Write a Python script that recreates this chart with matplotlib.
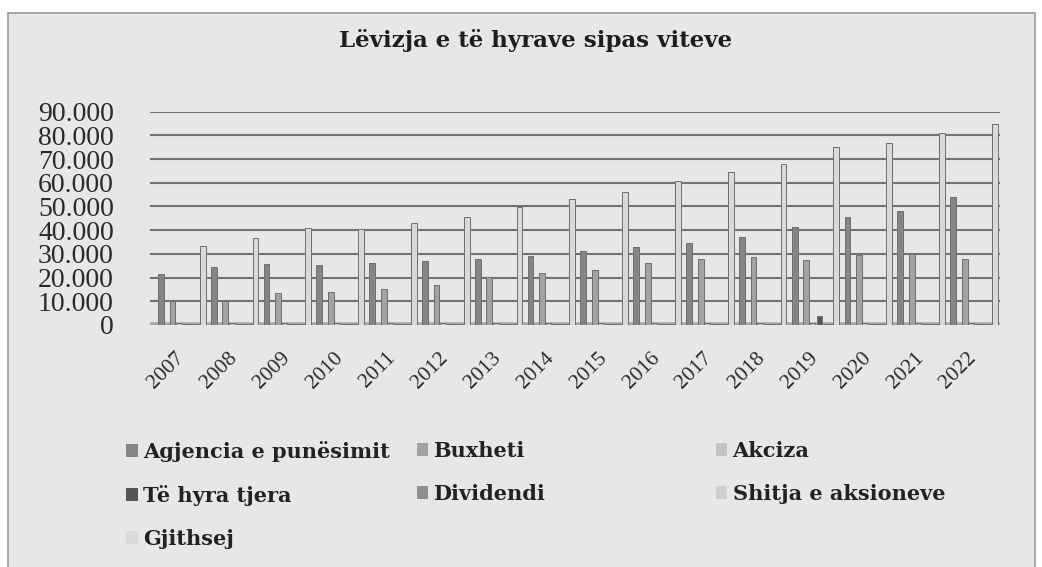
"""
    Revenue movement by year (grouped columns, grayscale)

    Draws the chart and saves it as out.png
"""

from __future__ import annotations
from pathlib import Path
import matplotlib
matplotlib.use('Agg')
import matplotlib.pyplot as plt
from matplotlib.patches import Patch, Rectangle


# ============================================================
# Data
# ============================================================

YEARS = ['2007', '2008', '2009', '2010', '2011', '2012', '2013', '2014',
         '2015', '2016', '2017', '2018', '2019', '2020', '2021', '2022']

AGJENCIA = [21400, 24600, 25600, 25300, 26000, 27000, 27800, 29200,
            31400, 33000, 34700, 37300, 41200, 45400, 48200, 54100]
BUXHETI = [10100, 10100, 13600, 13900, 15200, 16700, 20100, 22100,
           23200, 26000, 27800, 28800, 27400, 29500, 30000, 27800]
AKCIZA = [600, 600, 600, 600, 600, 600, 600, 600,
          600, 600, 600, 600, 600, 600, 600, 600]
TE_HYRA_TJERA = [300, 300, 300, 300, 300, 300, 300, 300,
                 300, 300, 300, 300, 3800, 300, 300, 300]
DIVIDENDI = [400, 400, 400, 400, 400, 400, 400, 400,
             400, 400, 400, 400, 400, 400, 400, 400]
SHITJA = [200, 200, 200, 200, 200, 200, 200, 200,
          200, 200, 200, 200, 200, 200, 200, 200]
GJITHSEJ = [33500, 36800, 40800, 40400, 42900, 45500, 49900, 53000,
            56200, 60900, 64700, 67900, 75200, 76900, 81100, 84700]

SERIES_NAMES = ['Agjencia e punësimit', 'Buxheti', 'Akciza', 'Të hyra tjera',
                'Dividendi', 'Shitja e aksioneve', 'Gjithsej']

TITLE = 'Lëvizja e të hyrave sipas viteve'
Y_TICKS = [0, 10000, 20000, 30000, 40000, 50000, 60000, 70000, 80000, 90000]
Y_TICK_LABELS = ['0', '10.000', '20.000', '30.000', '40.000', '50.000',
                 '60.000', '70.000', '80.000', '90.000']

# ============================================================
# Styling
# ============================================================

COLORS = ['#858585', '#a3a3a3', '#c2c2c2', '#555555', '#8f8f8f', '#cfcfcf', '#d9d9d9']
OFFSETS = [0.0, 0.22, 0.34, 0.47, 0.57, 0.67, 0.79]
BAR_WIDTH = 0.11
SERIF = ['Liberation Serif', 'DejaVu Serif']
WIDE_SERIF = ['DejaVu Serif']

OUT_PATH = Path('out.png')


def chart_revenue(out_path: Path) -> Path:
    """
        Create and save the grouped column chart.

        :param out_path: Where to save the picture
        :type out_path: Path
        :return: Path to the saved chart image
        :rtype: Path
    """

    series = [AGJENCIA, BUXHETI, AKCIZA, TE_HYRA_TJERA, DIVIDENDI, SHITJA, GJITHSEJ]

    fig = plt.figure(figsize=(10.42, 5.67), dpi=100, facecolor='white')

    # Scanned chart frame (kept behind the axes)
    fig.patches.append(Rectangle((0.008, -0.01), 0.985, 0.987, transform=fig.transFigure,
                                 facecolor='#e7e7e7', edgecolor='#9a9a9a', linewidth=1.2,
                                 zorder=-5))

    ax = fig.add_axes([0.144, 0.427, 0.816, 0.376])
    ax.set_facecolor('none')
    ax.set_zorder(2)

    x = list(range(len(YEARS)))
    for vals, off, color, name in zip(series, OFFSETS, COLORS, SERIES_NAMES):
        ax.bar([i + off for i in x], vals, width=BAR_WIDTH, color=color,
               edgecolor='#6f6f6f', linewidth=0.7, align='edge', label=name, zorder=3)

    ax.set_xlim(-0.15, 15.95)
    ax.set_ylim(0, 90000)

    ax.set_yticks(Y_TICKS)
    ax.set_yticklabels(Y_TICK_LABELS, family=SERIF, fontsize=20, color='#2a2a2a')
    ax.tick_params(axis='y', length=0, pad=26)

    ax.set_xticks([i + 0.32 for i in x])
    ax.set_xticklabels(YEARS, rotation=45, ha='right', rotation_mode='anchor',
                       family=SERIF, fontsize=15.5, color='#2a2a2a')
    ax.tick_params(axis='x', length=0, pad=17)

    ax.yaxis.grid(True, color='#737373', linewidth=1.5, zorder=1)
    ax.set_axisbelow(True)
    for spine in ax.spines.values():
        spine.set_visible(False)
    ax.axhline(0, color='#a8a8a8', linewidth=4, zorder=2)

    fig.text(0.514, 0.928, TITLE, ha='center', va='center', family=WIDE_SERIF,
             fontsize=16.5, fontweight='bold', color='#1e1e1e')

    # Legend in three columns, laid out as in the reference
    handles = [Patch(facecolor=c, edgecolor='none') for c in COLORS]
    columns = [([0, 3, 6], 0.121), ([1, 4], 0.400), ([2, 5], 0.687)]
    for idx, x0 in columns:
        leg = fig.legend([handles[i] for i in idx], [SERIES_NAMES[i] for i in idx],
                         loc='upper left', bbox_to_anchor=(x0, 0.222), frameon=False,
                         prop={'family': WIDE_SERIF, 'size': 15, 'weight': 'bold'},
                         handlelength=0.55, handleheight=0.55, handletextpad=0.25,
                         labelspacing=1.1, borderaxespad=0, borderpad=0)
        for text in leg.get_texts():
            text.set_color('#222222')

    fig.savefig(out_path, dpi=100, facecolor=fig.get_facecolor())
    plt.close(fig)

    print(f'Saved chart: {out_path}')
    return out_path


def main() -> None:
    """
        Build the chart.

        :return: None
        :rtype: None
    """
    chart_revenue(OUT_PATH)


if __name__ == '__main__':
    main()
